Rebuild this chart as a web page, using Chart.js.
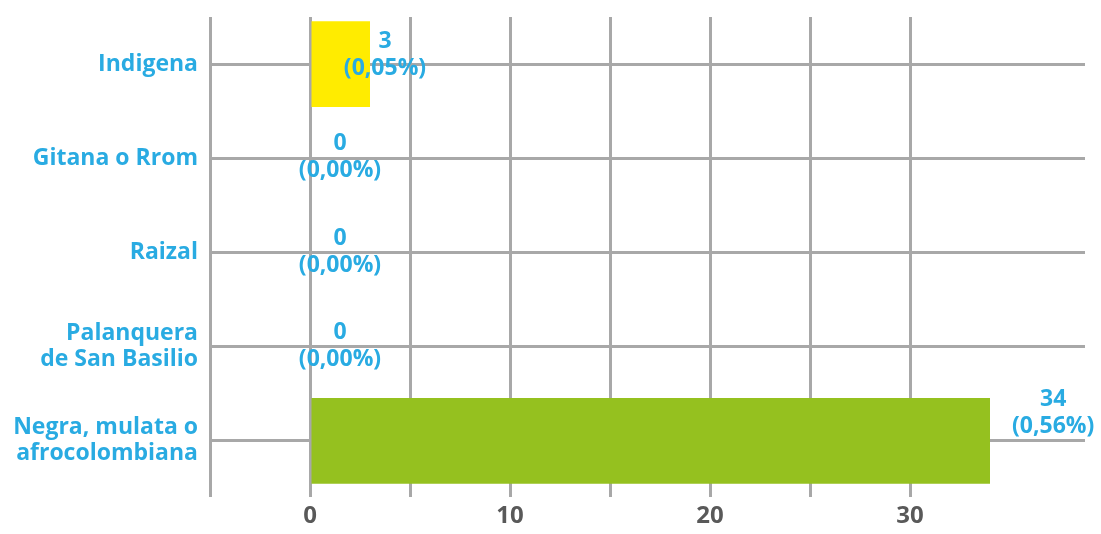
<!DOCTYPE html>
<html>
<head>
<meta charset="utf-8">
<script src="https://cdn.jsdelivr.net/npm/chart.js@4/dist/chart.umd.min.js"></script>
<style>
  html, body { margin: 0; padding: 0; background: #fff; }
  #wrap { width: 1101px; height: 534px; }
</style>
</head>
<body>
<div id="wrap"><canvas id="c"></canvas></div>
<script>
const categories = [
  "Indigena",
  "Gitana o Rrom",
  "Raizal",
  ["Palanquera", "de San Basilio"],
  ["Negra, mulata o", "afrocolombiana"]
];
const counts = [3, 0, 0, 0, 34];
const shares = ["0,05%", "0,00%", "0,00%", "0,00%", "0,56%"];
const barColors = ["#FFEC00", "#95C11F", "#95C11F", "#95C11F", "#95C11F"];

const blue = "#29ABE2";
const gridGray = "#A8A8A8";

// value + percentage label next to each bar
const valueLabels = {
  id: "valueLabels",
  afterDatasetsDraw(chart) {
    const ctx = chart.ctx;
    const meta = chart.getDatasetMeta(0);
    const base = chart.scales.x.getPixelForValue(0);
    ctx.save();
    ctx.font = "bold 23px 'Open Sans'";
    ctx.fillStyle = blue;
    ctx.textAlign = "center";
    ctx.textBaseline = "alphabetic";
    meta.data.forEach((bar, i) => {
      const v = counts[i];
      const line2 = "(" + shares[i] + ")";
      const w = ctx.measureText(line2).width;
      let cx, y1;
      if (v > 10) {
        cx = bar.x + 22 + w / 2;
        y1 = bar.y - 35;
      } else if (v > 0) {
        cx = bar.x + 15;
        y1 = bar.y - 16;
      } else {
        cx = base + 30;
        y1 = bar.y - 8;
      }
      ctx.fillText(String(v), cx, y1);
      ctx.fillText(line2, cx, y1 + 27);
    });
    ctx.restore();
  }
};

new Chart(document.getElementById("c"), {
  type: "bar",
  data: {
    labels: categories,
    datasets: [{
      data: counts,
      backgroundColor: barColors,
      categoryPercentage: 1,
      barPercentage: 0.91
    }]
  },
  options: {
    indexAxis: "y",
    responsive: true,
    maintainAspectRatio: false,
    animation: false,
    layout: { padding: { top: 17, right: 16, left: 0, bottom: 0 } },
    plugins: { legend: { display: false }, tooltip: { enabled: false } },
    scales: {
      x: {
        min: -5,
        max: 38.75,
        border: { display: false },
        grid: { color: gridGray, lineWidth: 3, drawTicks: true, tickLength: 9 },
        afterBuildTicks(axis) {
          axis.ticks = axis.ticks.filter(t => t.value % 5 === 0);
        },
        afterFit(axis) {
          axis.height = 46;
          axis.paddingLeft = 0;
          axis.paddingRight = 0;
        },
        ticks: {
          stepSize: 5,
          autoSkip: false,
          maxRotation: 0,
          padding: 5,
          color: "#595959",
          font: { family: "'Open Sans'", size: 24, weight: "bold" },
          callback(v) { return (v >= 0 && v % 10 === 0) ? String(v) : ""; }
        }
      },
      y: {
        border: { display: false },
        grid: { color: gridGray, lineWidth: 3, drawTicks: false, offset: false },
        afterFit(axis) {
          axis.width = 210;
          axis.paddingTop = 0;
          axis.paddingBottom = 0;
        },
        ticks: {
          padding: 12,
          color: blue,
          font: { family: "'Open Sans'", size: 23, weight: "bold", lineHeight: 1.13 }
        }
      }
    }
  },
  plugins: [valueLabels]
});
</script>
</body>
</html>
